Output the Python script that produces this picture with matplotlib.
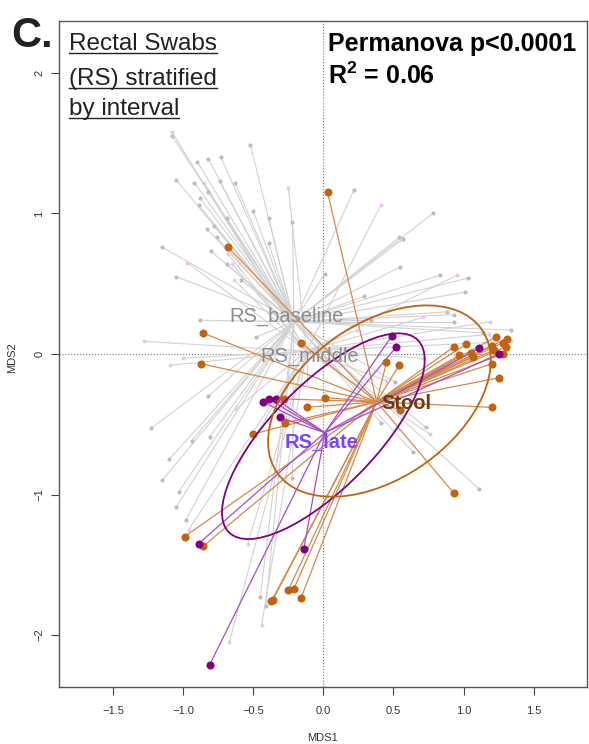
import matplotlib
matplotlib.use("Agg")
import matplotlib.pyplot as plt
from matplotlib.patches import Ellipse
from matplotlib.lines import Line2D

plt.rcParams['font.family'] = ['Liberation Sans', 'DejaVu Sans']
plt.rcParams['mathtext.fontset'] = 'custom'
plt.rcParams['mathtext.rm'] = 'Liberation Sans'
plt.rcParams['mathtext.bf'] = 'Liberation Sans:bold'

# RS_baseline (gray points)
base_x = [-1.08, -0.52, -0.90, -0.82, -0.73, -1.05, -0.92, -0.74, -0.63, -0.82, -0.88, -0.89,
          -0.50, -0.69, -0.39, -0.22, -0.78, -0.83, -0.76, -0.39, -1.15, -0.80, -0.69, -1.05,
          -0.59, -0.88, -0.48,
          0.22, 0.78, 0.54, 0.57, 0.01, 0.55, 0.83, 1.03, 1.01, 0.29, 0.88, 0.93, 0.34, 0.93,
          1.34, 1.14, 0.51,
          0.73, 0.64, 0.41, 1.11, -0.82, -0.94, -1.23, -0.81, -1.10, -1.15, -0.22, -1.03,
          -1.05, -0.98, -0.45, -0.41]
base_y = [1.55, 1.49, 1.37, 1.39, 1.40, 1.24, 1.22, 1.23, 1.22, 1.15, 1.11, 1.06,
          1.02, 0.97, 0.97, 0.94, 0.91, 0.89, 0.83, 0.79, 0.76, 0.73, 0.64, 0.55,
          0.53, 0.24, 0.12,
          1.17, 1.00, 0.83, 0.82, 0.57, 0.62, 0.56, 0.54, 0.44, 0.41, 0.30, 0.28, 0.24, 0.23,
          0.17, 0.15, -0.20,
          -0.52, -0.70, -0.49, -0.96, -0.30, -0.62, -0.53, -0.59, -0.75, -0.90, -0.88, -0.98,
          -1.09, -1.18, -1.73, -1.79]

# RS_middle (light pink points)
mid_x = [-1.08, -0.85, -0.25, -0.68, -0.65, -0.97, -0.64, -1.28, -1.00, -1.09, 0.41, 0.95,
         0.71, 1.19, 0.24, 1.18, 1.34, 0.71, 0.45, -0.12, 0.76, -0.62, -0.60, -0.96, -0.54,
         -0.44, -0.67]
mid_y = [1.58, 1.22, 1.18, 0.71, 0.64, 0.65, 0.53, 0.09, -0.03, -0.08, 1.06, 0.56,
         0.26, 0.23, 0.17, 0.14, 0.09, -0.03, -0.19, -0.23, -0.57, -0.39, -0.77, -1.25, -1.35,
         -1.93, -2.05]

# RS_late (purple points)
late_x = [-0.43, -0.39, -0.34, -0.31, 0.49, 0.52, 1.11, 1.25, -0.89, -0.14, -0.81]
late_y = [-0.34, -0.32, -0.32, -0.45, 0.13, 0.05, 0.04, 0.00, -1.35, -1.39, -2.21]

# Stool (orange points)
stool_x = [0.03, -0.68, -0.86, -0.87, -0.16, 0.45, 0.54, 0.01, -0.28, -0.12, -0.27, -0.50,
           0.55, 0.93, 1.20, 1.25, 1.23, 1.31, 1.28, 1.20, 1.30, 1.22, 1.28, 1.02, 0.93,
           1.05, 0.97, 1.07, 1.20, -0.99, -0.86, -0.25, -0.21, -0.16, -0.37, -0.36]
stool_y = [1.15, 0.76, 0.15, -0.07, 0.08, -0.06, -0.08, -0.31, -0.32, -0.38, -0.49, -0.57,
           -0.40, -0.99, -0.38, -0.17, 0.12, 0.11, 0.08, 0.06, 0.05, 0.03, 0.00, 0.07, 0.05,
           0.01, -0.01, -0.02, -0.07, -1.30, -1.37, -1.68, -1.67, -1.74, -1.76, -1.75]

# spider centres
cent_base = (-0.21, 0.23)
cent_mid = (-0.12, 0.02)
cent_late = (0.01, -0.56)
cent_stool = (0.38, -0.34)

# ellipses: centre, semi axes, angle
ell_late = (0.0, -0.585, 0.96, 0.37, 45.5)
ell_stool = (0.40, -0.335, 0.89, 0.55, 35)

gray_line = '#d2d2d2'
orange = '#c4630f'
purple = '#800080'

fig = plt.figure(figsize=(5.89, 7.44), dpi=100)
ax = fig.add_axes([59/589, 1-687/744, 528/589, 666/744])

def spider(xs, ys, c, col, lw):
    for x, y in zip(xs, ys):
        ax.plot([c[0], x], [c[1], y], color=col, lw=lw, zorder=2)

ax.axhline(0, color='#777777', ls=':', lw=0.8, zorder=1)
ax.axvline(0, color='#777777', ls=':', lw=0.8, zorder=1)

spider(base_x, base_y, cent_base, gray_line, 0.8)
spider(mid_x, mid_y, cent_mid, gray_line, 0.8)
ax.plot(base_x, base_y, 'o', ms=3, color='#bdbdbd', mec='none', zorder=3)
ax.plot(mid_x, mid_y, 'o', ms=2.8, color='#f0c2f3', mec='none', zorder=3)

spider(stool_x, stool_y, cent_stool, '#d5894a', 0.9)
ax.plot(stool_x, stool_y, 'o', ms=5.8, color=orange, mec='none', zorder=4)
spider(late_x, late_y, cent_late, '#a84cc4', 0.9)
ax.plot(late_x, late_y, 'o', ms=5.8, color=purple, mec='none', zorder=4)

for e, col in [(ell_late, purple), (ell_stool, '#c0630f')]:
    ax.add_patch(Ellipse((e[0], e[1]), 2*e[2], 2*e[3], angle=e[4], fill=False,
                         edgecolor=col, lw=1.3, zorder=5))

ax.text(-0.26, 0.27, 'RS_baseline', color='#8c8c8c', fontsize=14.5, ha='center', va='center', zorder=6)
ax.text(-0.10, -0.015, 'RS_middle', color='#8c8c8c', fontsize=14.5, ha='center', va='center', zorder=6)
ax.text(0.59, -0.355, 'Stool', color='#6e3c0c', fontsize=14.5, fontweight='bold',
        ha='center', va='center', zorder=6)
ax.text(-0.015, -0.62, 'RS_late', color='#8040ff', fontsize=14.5, fontweight='bold',
        ha='center', va='center', zorder=6)

ax.set_xlim(-1.885, 1.88)
ax.set_ylim(-2.37, 2.37)
ax.set_xticks([-1.5, -1.0, -0.5, 0.0, 0.5, 1.0, 1.5])
ax.set_yticks([-2, -1, 0, 1, 2])
ax.tick_params(length=5.5, width=0.8, color='#444444', labelsize=8, labelcolor='#333333')
ax.tick_params(axis='x', pad=8)
ax.tick_params(axis='y', pad=5, labelrotation=90)
for lab in ax.get_yticklabels():
    lab.set_va('center')
for s in ax.spines.values():
    s.set_color('#555555')
    s.set_linewidth(1)

fig.text(323/589, 1-738/744, 'MDS1', fontsize=8, color='#333333', ha='center', va='center')
fig.text(12/589, 1-358/744, 'MDS2', fontsize=8, color='#333333', ha='center', va='center', rotation=90)

# titles
fig.text(11/589, 1-47/744, 'C.', fontsize=30, fontweight='bold', color='#222222', va='baseline')
title_lines = ['Rectal Swabs', '(RS) stratified', 'by interval']
baselines = [50, 85, 115]
fig.canvas.draw()
r = fig.canvas.get_renderer()
for txt, b in zip(title_lines, baselines):
    t = fig.text(69/589, 1-b/744, txt, fontsize=17.5, color='#222222', va='baseline')
    bb = t.get_window_extent(r)
    fig.add_artist(Line2D([bb.x0/589, bb.x1/589], [1-(b+3)/744]*2, color='#222222', lw=1,
                          transform=fig.transFigure))

fig.text(328/589, 1-51/744, 'Permanova p<0.0001', fontsize=18, fontweight='bold', color='black', va='baseline')
fig.text(328/589, 1-84/744, r'$\mathbf{R^2}$ = 0.06', fontsize=18, fontweight='bold', color='black', va='baseline')

fig.savefig('out.png', dpi=100)
